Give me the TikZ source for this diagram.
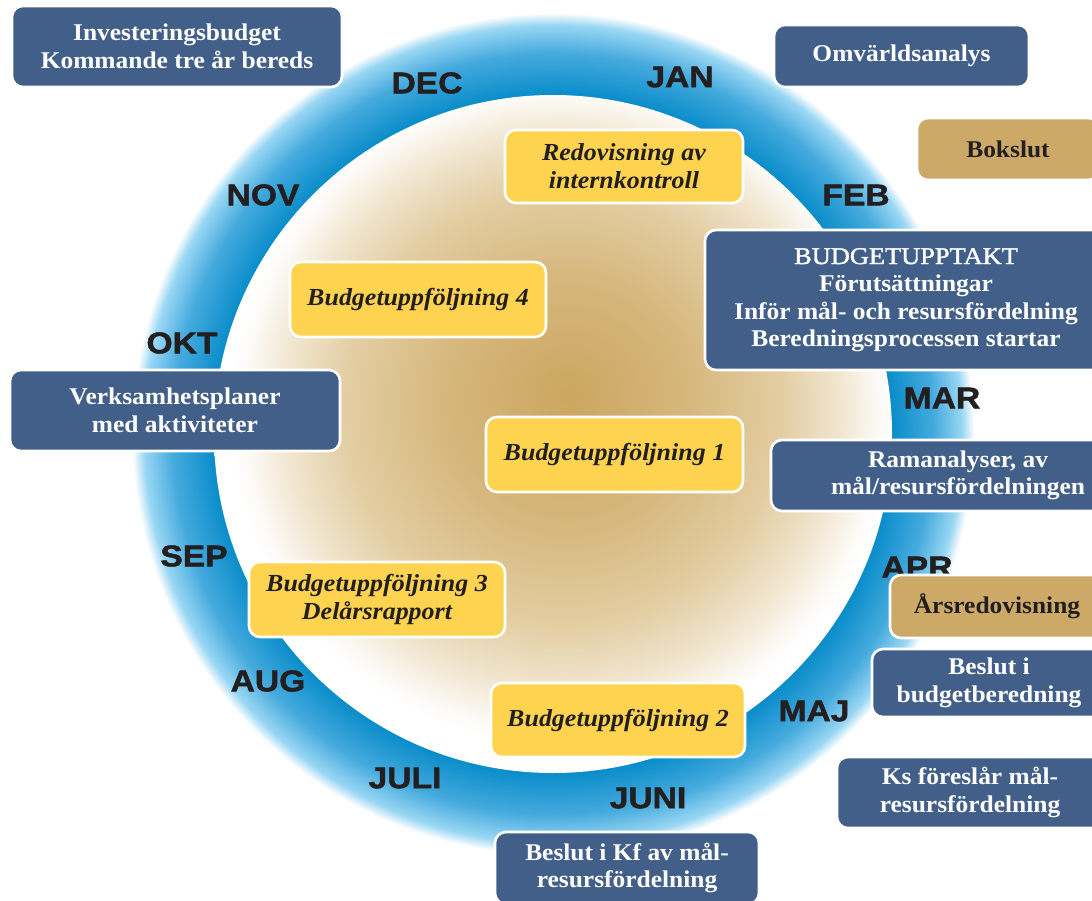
\documentclass[tikz,border=0pt]{standalone}
\usepackage{fontspec}
\setmainfont{Liberation Serif}
\newfontfamily\boxfont{Liberation Serif}[FakeStretch=1.06]
\newfontfamily\semifont{Liberation Serif}[FakeStretch=1.1, FakeBold=1.5]
\newfontfamily\monthfont{Liberation Sans}[FakeStretch=1.12, FakeBold=1.6]
\definecolor{boxblue}{HTML}{415F88}
\definecolor{boxtan}{HTML}{CDA968}
\definecolor{boxyellow}{HTML}{FDD34F}
\definecolor{ink}{HTML}{231F20}
\definecolor{ringdark}{HTML}{0A8DCA}
\definecolor{ringmid}{HTML}{45AADD}
\definecolor{ringlight}{HTML}{9AD7F4}
\definecolor{diskA}{HTML}{CBA660}
\definecolor{diskB}{HTML}{D6B77C}
\definecolor{diskC}{HTML}{E3CDA2}
\definecolor{diskD}{HTML}{F1E6D0}
\definecolor{diskE}{HTML}{FCFAF5}
\pgfdeclareradialshading{ringshade}{\pgfpoint{0bp}{0bp}}{color(0bp)=(ringdark); color(20.15bp)=(ringdark); color(22.6bp)=(ringmid); color(24.3bp)=(ringlight); color(25bp)=(white); color(50bp)=(white)}
\pgfdeclareradialshading{diskshade}{\pgfpoint{1.2bp}{2.9bp}}{color(0bp)=(diskA); color(9bp)=(diskB); color(16bp)=(diskC); color(20.5bp)=(diskD); color(23.3bp)=(diskE); color(24.5bp)=(white); color(50bp)=(white)}
\tikzset{
  basebox/.style={draw=white, line width=2.6pt, rounded corners=11pt, inner sep=0pt, align=center},
  bluebox/.style={basebox, fill=boxblue, text=white, font=\boxfont\bfseries\fontsize{24}{27.5}\selectfont},
  tanbox/.style={basebox, fill=boxtan, text=ink, font=\boxfont\bfseries\fontsize{24}{27.5}\selectfont},
  yellowbox/.style={basebox, fill=boxyellow, text=ink, font=\boxfont\bfseries\itshape\fontsize{24.5}{28}\selectfont},
  month/.style={text=ink, inner sep=0pt, font=\monthfont\bfseries\fontsize{30}{30}\selectfont}
}
\begin{document}
\begin{tikzpicture}[x=1pt,y=-1pt]
\useasboundingbox (0,0) rectangle (1092,901);
\clip (0,0) rectangle (1092,901);
\fill[white] (0,0) rectangle (1092,901);
\coordinate (c) at (553,434);
% ring and disk
\shade[shading=ringshade] (c) circle[radius=421];
\shade[shading=diskshade] (c) circle[radius=339];
% months
\node[month] (dec) at (427,83) {DEC};
\node[month] (jan) at (680,77) {JAN};
\node[month] (feb) at (856,195) {FEB};
\node[month] (mar) at (942,398) {MAR};
\node[month] (apr) at (917,567) {APR};
\node[month] (maj) at (814,711) {MAJ};
\node[month] (juni) at (648,798) {JUNI};
\node[month] (juli) at (405,778) {JULI};
\node[month] (aug) at (268,681) {AUG};
\node[month] (sep) at (194,556) {SEP};
\node[month] (okt) at (182,343) {OKT};
\node[month] (nov) at (263,195) {NOV};
% yellow boxes
\node[yellowbox, minimum width=238pt, minimum height=73pt] (redov) at (624,166.5) {Redovisning av\\internkontroll};
\node[yellowbox, minimum width=256pt, minimum height=75pt] (bu4) at (418,299.5) {Budgetuppföljning 4};
\node[yellowbox, minimum width=257pt, minimum height=75pt] (bu1) at (614.5,454.5) {Budgetuppföljning 1};
\node[yellowbox, minimum width=256pt, minimum height=75pt] (bu3) at (377,599.5) {Budgetuppföljning 3\\Delårsrapport};
\node[yellowbox, minimum width=254pt, minimum height=74pt] (bu2) at (618,720) {Budgetuppföljning 2};
% blue boxes
\node[bluebox, minimum width=330pt, minimum height=81pt] (inv) at (177,46.5) {Investeringsbudget\\Kommande tre år bereds};
\node[bluebox, minimum width=255pt, minimum height=62pt] (omv) at (901.5,56) {Omvärldsanalys};
\node[bluebox, minimum width=402pt, minimum height=140pt] (upptakt) at (906,300) {{\semifont\mdseries BUDGETUPPTAKT}\\Förutsättningar\\Inför mål- och resursfördelning\\Beredningsprocessen startar};
\node[bluebox, minimum width=330pt, minimum height=81pt] (verks) at (175,410.5) {Verksamhetsplaner\\med aktiviteter};
\node[bluebox, minimum width=374pt, minimum height=71pt] (raman) at (958,475.5) {Ramanalyser, av\\mål/resursfördelningen};
\node[bluebox, minimum width=234pt, minimum height=68pt] (beslut) at (989,683) {Beslut i\\budgetberedning};
\node[bluebox, minimum width=266pt, minimum height=71pt] (ks) at (970,792.5) {Ks föreslår mål-\\resursfördelning};
\node[bluebox, minimum width=264pt, minimum height=72pt] (kf) at (627,868) {Beslut i Kf av mål-\\resursfördelning};
% tan boxes
\node[tanbox, minimum width=182pt, minimum height=62pt] (bokslut) at (1008,149) {Bokslut};
\node[tanbox, minimum width=214pt, minimum height=63pt] (ars) at (997,606.5) {Årsredovisning};
\end{tikzpicture}
\end{document}
